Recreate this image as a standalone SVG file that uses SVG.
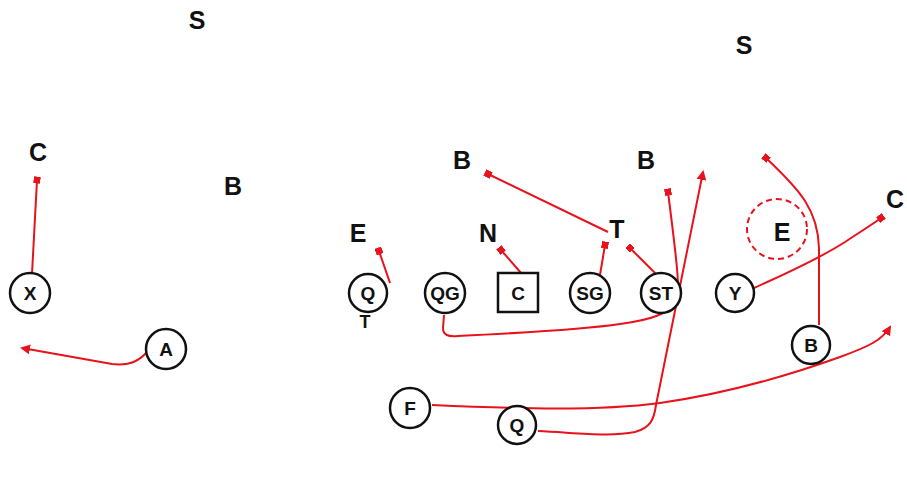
<svg xmlns="http://www.w3.org/2000/svg" width="907" height="491" viewBox="0 0 907 491">
<style>
.bg{fill:#ffffff}
.p circle,.p rect{fill:#ffffff;stroke:#111111;stroke-width:2.5}
.p text{font-family:"Liberation Sans",Arial,sans-serif;font-weight:bold;font-size:19px;fill:#111111;text-anchor:middle}
.lbl{font-family:"Liberation Sans",Arial,sans-serif;font-weight:bold;font-size:25px;fill:#111111;text-anchor:middle}
.r{fill:none;stroke:#e8121c;stroke-width:2}
.blk{marker-end:url(#sq)}
.arr{marker-end:url(#ar)}
</style>
<defs>
<marker id="sq" viewBox="0 0 10 10" refX="5" refY="5" markerWidth="3.5" markerHeight="3.5" orient="auto" markerUnits="strokeWidth">
<rect x="0" y="0" width="10" height="10" fill="#e8121c"/>
</marker>
<marker id="ar" viewBox="0 0 10 10" refX="8" refY="5" markerWidth="5" markerHeight="5" orient="auto" markerUnits="strokeWidth">
<path d="M0,0 L10,5 L0,10 z" fill="#e8121c"/>
</marker>
</defs>
<rect class="bg" x="0" y="0" width="907" height="491"/>
<g id="connectors">
<path class="r blk" d="M32,274 L37,180"/>
<path class="r arr" d="M147,352 C138,362 128,366 112,364 L22,348"/>
<path class="r blk" d="M390,283 L379,251"/>
<path class="r blk" d="M521,273 L501,250"/>
<path class="r blk" d="M600,275 L605,245"/>
<path class="r blk" d="M657,275 L630,248"/>
<path class="r blk" d="M608,232 L488,174"/>
<path class="r blk" d="M444,315 L443,328 C443,335 448,337 458,336 C520,333 580,330 620,324 C650,320 670,314 676,300 C680,290 678,270 668,192"/>
<path class="r arr" d="M538,431 C580,433 610,437 635,432 C650,428 654,420 656,405 L703,172"/>
<path class="r arr" d="M432,405 C520,409 600,411 660,403 C730,393 790,375 840,357 C870,346 882,340 890,327"/>
<path class="r blk" d="M754,288 C790,272 820,258 845,242 C860,232 870,226 881,218"/>
<path class="r blk" d="M819,325 L819,248 C818,210 800,190 766,158"/>
<circle cx="777" cy="229" r="30" fill="none" stroke="#e8121c" stroke-width="2" stroke-dasharray="6,4"/>
</g>
<g id="labels">
<text class="lbl" x="197" y="29">S</text>
<text class="lbl" x="744" y="54">S</text>
<text class="lbl" x="38" y="161">C</text>
<text class="lbl" x="233" y="195">B</text>
<text class="lbl" x="462" y="169">B</text>
<text class="lbl" x="646" y="169">B</text>
<text class="lbl" x="358" y="242">E</text>
<text class="lbl" x="488" y="242">N</text>
<text class="lbl" x="617" y="238">T</text>
<text class="lbl" x="782" y="241">E</text>
<text class="lbl" x="895" y="208">C</text>
<text class="lbl" x="365" y="328" style="font-size:18px">T</text>
</g>
<g id="node-X" class="p"><circle cx="30" cy="293" r="20"/><text x="30" y="300">X</text></g>
<g id="node-A" class="p"><circle cx="166" cy="349" r="20"/><text x="166" y="356">A</text></g>
<g id="node-Q1" class="p"><circle cx="368" cy="293" r="19"/><text x="368" y="300">Q</text></g>
<g id="node-QG" class="p"><circle cx="445" cy="293" r="20"/><text x="445" y="300">QG</text></g>
<g id="node-C" class="p"><rect x="498" y="273" width="40" height="39"/><text x="518" y="300">C</text></g>
<g id="node-SG" class="p"><circle cx="590" cy="293" r="20"/><text x="590" y="300">SG</text></g>
<g id="node-ST" class="p"><circle cx="661" cy="293" r="20"/><text x="661" y="300">ST</text></g>
<g id="node-Y" class="p"><circle cx="735" cy="293" r="19"/><text x="735" y="300">Y</text></g>
<g id="node-B" class="p"><circle cx="811" cy="345" r="19"/><text x="811" y="352">B</text></g>
<g id="node-F" class="p"><circle cx="410" cy="408" r="20"/><text x="410" y="415">F</text></g>
<g id="node-Q2" class="p"><circle cx="517" cy="425" r="19"/><text x="517" y="432">Q</text></g>
</svg>
